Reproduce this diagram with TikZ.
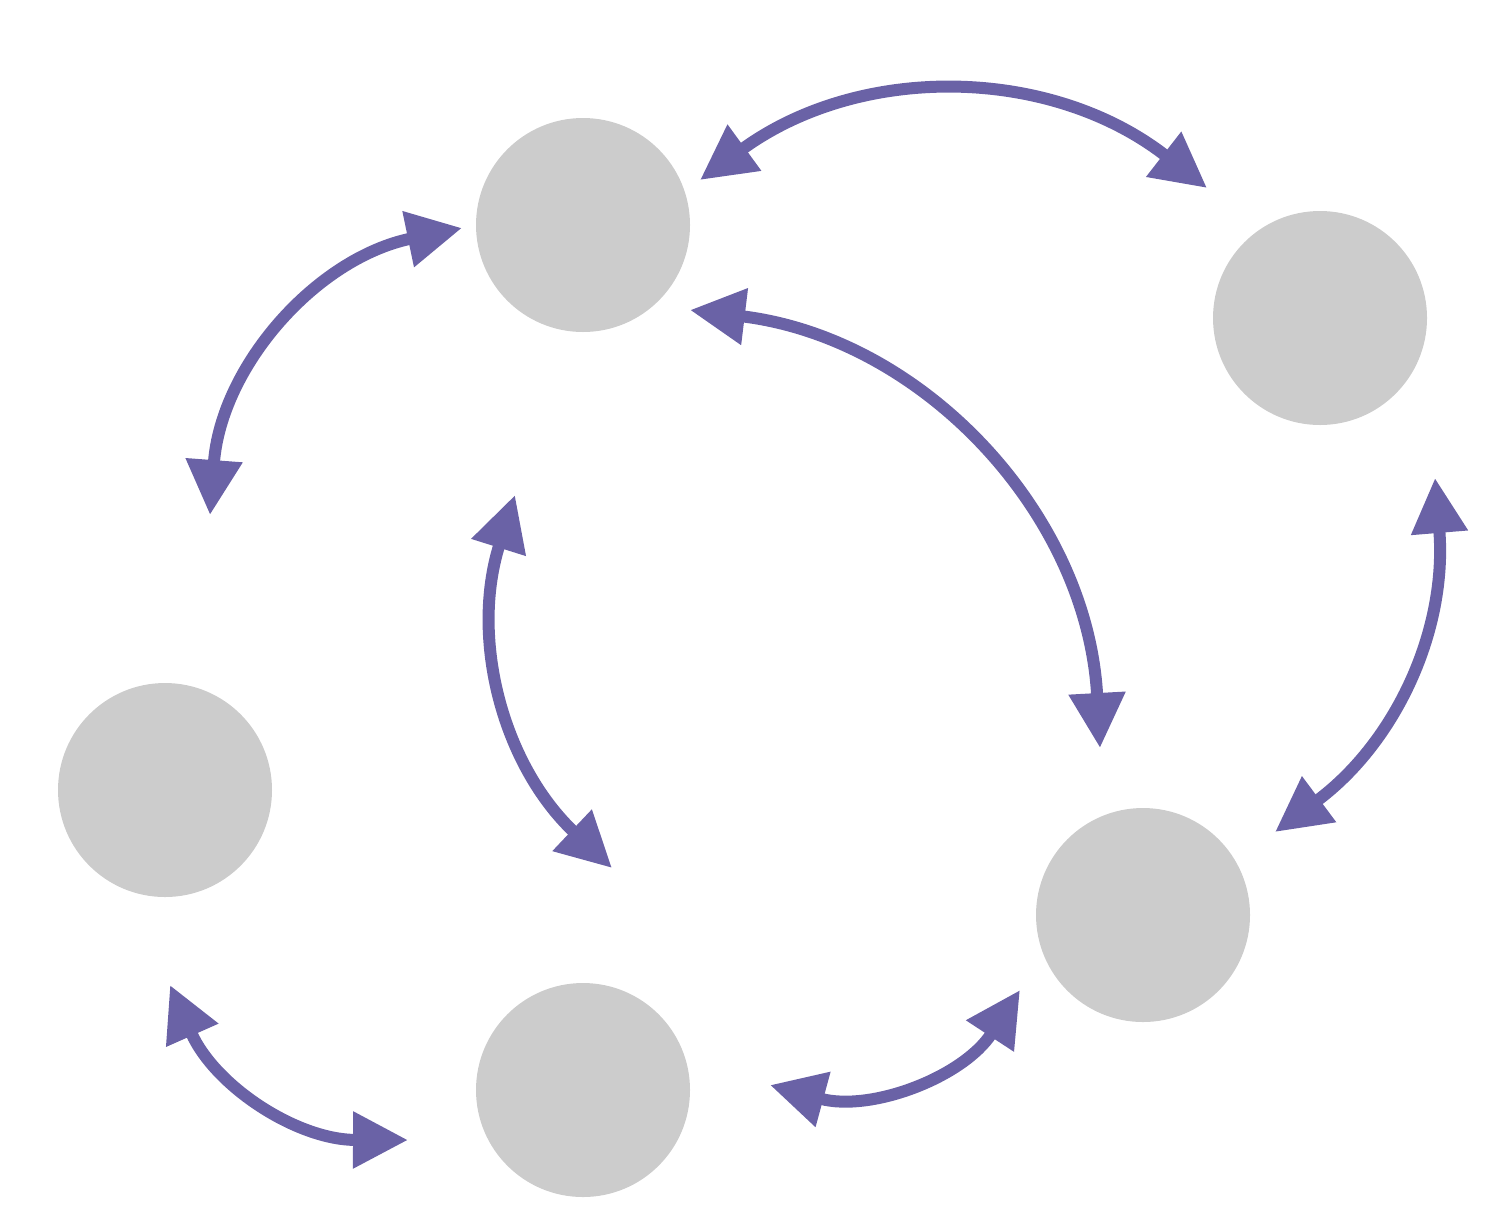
\documentclass[tikz,border=0pt]{standalone}
\usepackage{tikz}
\usetikzlibrary{arrows.meta}
\definecolor{peer}{HTML}{CCCCCC}
\definecolor{link}{HTML}{6A62A6}

\begin{document}
\begin{tikzpicture}[
  member/.style={circle,fill=peer,draw=none,minimum size=2.14cm,inner sep=0pt},
  swap/.style={link,line width=1.2mm,{Triangle[length=5.5mm,width=5.4mm]}-{Triangle[length=5.5mm,width=5.4mm]}}]
\useasboundingbox (0,0) rectangle (14.85,12.08);
\node[member] (pa) at (5.83,9.83) {};
\node[member] (pb) at (13.20,8.90) {};
\node[member] (pc) at (1.65,4.18) {};
\node[member] (pd) at (5.83,1.18) {};
\node[member] (pe) at (11.43,2.93) {};
% arrow ends
\coordinate (t1a) at (7.00,10.28); \coordinate (t1b) at (12.07,10.20);
\coordinate (t2a) at (4.62,9.80);  \coordinate (t2b) at (2.10,6.93);
\coordinate (t3a) at (6.90,8.98);  \coordinate (t3b) at (11.00,4.60);
\coordinate (t4a) at (5.15,7.13);  \coordinate (t4b) at (6.12,3.40);
\coordinate (t5a) at (14.35,7.30); \coordinate (t5b) at (12.75,3.76);
\coordinate (t6a) at (1.70,2.23);  \coordinate (t6b) at (4.08,0.68);
\coordinate (t7a) at (7.70,1.23);  \coordinate (t7b) at (10.20,2.18);
\draw[swap] (t1a) to[bend left=37] (t1b);
\draw[swap] (t2a) to[bend right=37] (t2b);
\draw[swap] (t3a) to[bend left=40] (t3b);
\draw[swap] (t4a) to[bend right=32] (t4b);
\draw[swap] (t5a) to[bend left=29] (t5b);
\draw[swap] (t6a) to[bend right=33] (t6b);
\draw[swap] (t7a) to[bend right=36] (t7b);
\end{tikzpicture}
\end{document}
